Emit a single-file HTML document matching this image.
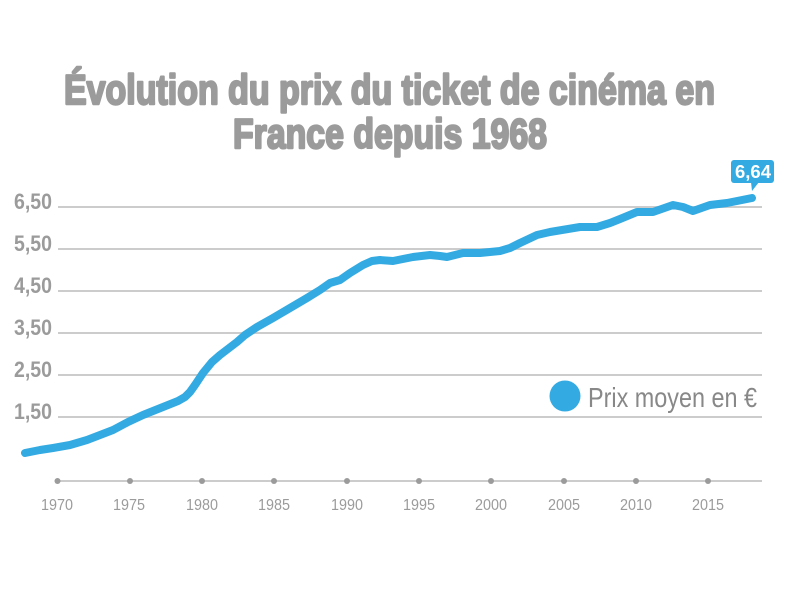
<!DOCTYPE html>
<html>
<head>
<meta charset="utf-8">
<style>
html,body{margin:0;padding:0;background:#fff;}
svg{display:block;}
</style>
</head>
<body>
<svg width="800" height="600" viewBox="0 0 800 600" xmlns="http://www.w3.org/2000/svg">
  <rect width="800" height="600" fill="#fff"/>
  <!-- Title -->
  <g font-family="'Liberation Sans', sans-serif" font-weight="bold" font-size="42" fill="#9b9b9b" stroke="#9b9b9b" stroke-width="2.4" stroke-linejoin="round">
    <text x="64" y="104" textLength="651" lengthAdjust="spacingAndGlyphs">Évolution du prix du ticket de cinéma en</text>
    <text x="233" y="148" textLength="314" lengthAdjust="spacingAndGlyphs">France depuis 1968</text>
  </g>
  <!-- gridlines -->
  <g stroke="#cccccc" stroke-width="2">
    <line x1="58" y1="207" x2="762" y2="207"/>
    <line x1="58" y1="249" x2="762" y2="249"/>
    <line x1="58" y1="291" x2="762" y2="291"/>
    <line x1="58" y1="333" x2="762" y2="333"/>
    <line x1="58" y1="375" x2="762" y2="375"/>
    <line x1="58" y1="417" x2="762" y2="417"/>
    <line x1="57" y1="481" x2="762" y2="481"/>
  </g>
  <!-- y labels -->
  <g font-family="'Liberation Sans', sans-serif" font-weight="bold" font-size="22" fill="#9b9b9b">
    <text x="14" y="209" textLength="38" lengthAdjust="spacingAndGlyphs">6,50</text>
    <text x="14" y="251" textLength="38" lengthAdjust="spacingAndGlyphs">5,50</text>
    <text x="14" y="293" textLength="38" lengthAdjust="spacingAndGlyphs">4,50</text>
    <text x="14" y="335" textLength="38" lengthAdjust="spacingAndGlyphs">3,50</text>
    <text x="14" y="377" textLength="38" lengthAdjust="spacingAndGlyphs">2,50</text>
    <text x="14" y="419" textLength="38" lengthAdjust="spacingAndGlyphs">1,50</text>
  </g>
  <!-- x ticks -->
  <g fill="#9b9b9b">
    <circle cx="57.5" cy="481" r="3"/>
    <circle cx="130" cy="481" r="3"/>
    <circle cx="202" cy="481" r="3"/>
    <circle cx="274" cy="481" r="3"/>
    <circle cx="347" cy="481" r="3"/>
    <circle cx="419" cy="481" r="3"/>
    <circle cx="491" cy="481" r="3"/>
    <circle cx="564" cy="481" r="3"/>
    <circle cx="636" cy="481" r="3"/>
    <circle cx="708" cy="481" r="3"/>
  </g>
  <g font-family="'Liberation Sans', sans-serif" font-size="16" fill="#9b9b9b">
    <text x="41" y="510" textLength="32" lengthAdjust="spacingAndGlyphs">1970</text>
    <text x="113" y="510" textLength="32" lengthAdjust="spacingAndGlyphs">1975</text>
    <text x="186" y="510" textLength="32" lengthAdjust="spacingAndGlyphs">1980</text>
    <text x="258" y="510" textLength="32" lengthAdjust="spacingAndGlyphs">1985</text>
    <text x="331" y="510" textLength="32" lengthAdjust="spacingAndGlyphs">1990</text>
    <text x="403" y="510" textLength="32" lengthAdjust="spacingAndGlyphs">1995</text>
    <text x="475" y="510" textLength="32" lengthAdjust="spacingAndGlyphs">2000</text>
    <text x="548" y="510" textLength="32" lengthAdjust="spacingAndGlyphs">2005</text>
    <text x="620" y="510" textLength="32" lengthAdjust="spacingAndGlyphs">2010</text>
    <text x="692" y="510" textLength="32" lengthAdjust="spacingAndGlyphs">2015</text>
  </g>
  <!-- series -->
  <polyline fill="none" stroke="#33aae2" stroke-width="8" stroke-linecap="round" stroke-linejoin="round"
    points="25,453 40,450 53,448 70,445 87,440 100,435 113,430 128,422 143,415 163,407 178,401 185,397 190,392 195,385 203,373 212,362 220,355 237,342 245,335 257,327 273,318 290,308 307,298 320,290 330,283 340,280 350,273 363,265 372,261 380,260 393,261 413,257 430,255 440,256 447,257 463,253 480,253 500,251 510,248 520,243 537,235 550,232 580,227 597,227 610,223 620,219 637,212 653,212 673,205 683,207 693,211 710,205 727,203 752,198"/>
  <!-- value bubble -->
  <rect x="731" y="160" width="43" height="23" rx="3" fill="#33aae2"/>
  <polygon points="751,182 759,182 752,191" fill="#33aae2"/>
  <text x="735" y="178" font-family="'Liberation Sans', sans-serif" font-weight="bold" font-size="18" fill="#fff" textLength="36" lengthAdjust="spacingAndGlyphs">6,64</text>
  <!-- legend -->
  <circle cx="565" cy="396" r="15.5" fill="#33aae2"/>
  <text x="588" y="407" font-family="'Liberation Sans', sans-serif" font-size="28" fill="#888888" textLength="169" lengthAdjust="spacingAndGlyphs">Prix moyen en €</text>
</svg>
</body>
</html>
